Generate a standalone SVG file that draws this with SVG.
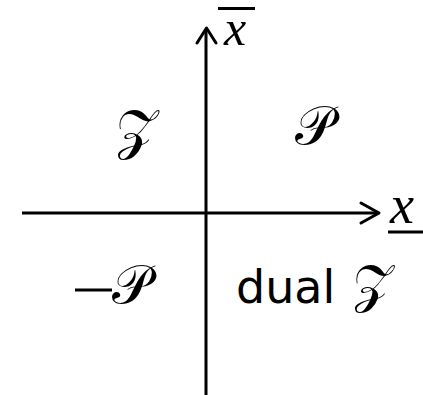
<svg xmlns="http://www.w3.org/2000/svg" width="423" height="395" viewBox="0 0 423 395">
<style>
.ax{stroke:#000;stroke-width:3;fill:none}
.hd{stroke:#000;stroke-width:3;fill:none;stroke-linecap:round;stroke-linejoin:round}
.var{font-family:"Liberation Serif",serif;font-style:italic;fill:#000}
.cal{font-family:"DejaVu Serif","DejaVu Sans","Noto Sans",serif;fill:#000}
.rm{font-family:"DejaVu Sans","Liberation Sans",sans-serif;fill:#000}
</style>
<rect width="423" height="395" fill="#fff"/>
<g id="connectors">
<line class="ax" x1="206" y1="395" x2="206" y2="30"/>
<polyline class="hd" points="197,43 206.5,28 216,43"/>
<line class="ax" x1="22" y1="213" x2="378" y2="213"/>
<polyline class="hd" points="361,203 379,213 361,223"/>
</g>
<g id="xbar">
<line x1="218" y1="8.5" x2="255" y2="8.5" stroke="#000" stroke-width="3"/>
<text class="var" x="224" y="45" font-size="50">x</text>
</g>
<g id="xunder">
<text class="var" x="390" y="223" font-size="54">x</text>
<line x1="388" y1="232" x2="423" y2="232" stroke="#000" stroke-width="3"/>
</g>
<g id="q2"><text class="cal" x="116" y="148" font-size="54">𝒵</text></g>
<g id="q1"><text class="cal" x="295" y="144" font-size="54">𝒫</text></g>
<g id="q3"><line x1="75" y1="290" x2="112" y2="290" stroke="#000" stroke-width="3"/><text class="cal" x="112" y="303" font-size="54">𝒫</text></g>
<g id="q4"><text class="rm" x="236" y="303" font-size="46">dual</text><text class="cal" x="353" y="302" font-size="52">𝒵</text></g>
<g id="cut"><text class="cal" x="14" y="425" font-size="40">𝒵</text></g>
</svg>
